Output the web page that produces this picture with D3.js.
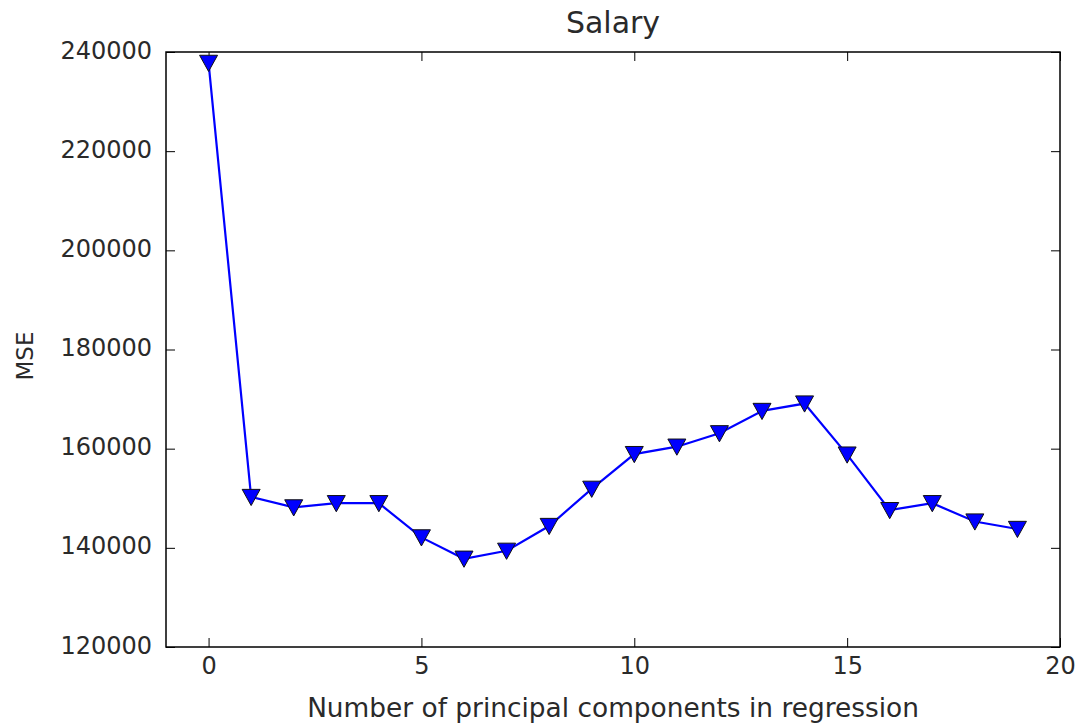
<!DOCTYPE html>
<html><head><meta charset="utf-8">
<script src="https://cdn.jsdelivr.net/npm/d3@7"></script>
<style>body{margin:0;background:#fff;} text{font-family:"DejaVu Sans",sans-serif;}</style>
</head><body>
<svg id="chart" width="1079" height="723"></svg>
<script>
const components = [0,1,2,3,4,5,6,7,8,9,10,11,12,13,14,15,16,17,18,19];
const mse = [237800,150250,148150,149000,149000,142100,137800,139400,144400,151900,158900,160400,163100,167600,169100,158800,147600,149000,145300,143800];
const xTicks = [0,5,10,15,20];
const yTicks = [120000,140000,160000,180000,200000,220000,240000];
const title = "Salary";
const xLabel = "Number of principal components in regression";
const yLabel = "MSE";

const svg = d3.select("#chart");
const L = 166, R = 1060, T = 52, B = 647;
const x = d3.scaleLinear().domain([-1,20]).range([L,R]);
const y = d3.scaleLinear().domain([120000,240000]).range([B,T]);
const tl = 9;

// axes
const gx = svg.append("g").attr("transform",`translate(0,${B})`)
  .call(d3.axisBottom(x).tickValues(xTicks).tickSize(-tl).tickPadding(10).tickFormat(d3.format("d")));
const gxt = svg.append("g").attr("transform",`translate(0,${T})`)
  .call(d3.axisTop(x).tickValues(xTicks).tickSize(-tl).tickFormat(""));
const gy = svg.append("g").attr("transform",`translate(${L},0)`)
  .call(d3.axisLeft(y).tickValues(yTicks).tickSize(-tl).tickPadding(14).tickFormat(d3.format("d")));
const gyr = svg.append("g").attr("transform",`translate(${R},0)`)
  .call(d3.axisRight(y).tickValues(yTicks).tickSize(-tl).tickFormat(""));
[gx,gxt,gy,gyr].forEach(g=>{
  g.select(".domain").remove();
  g.selectAll(".tick line").attr("stroke","#000").attr("stroke-width",1);
  g.selectAll(".tick text").attr("font-size",24).attr("fill","#2a2a2a").attr("font-family","DejaVu Sans");
});
gy.selectAll(".tick text").attr("dy","0.25em");
svg.append("rect").attr("x",L).attr("y",T).attr("width",R-L).attr("height",B-T)
  .attr("fill","none").attr("stroke","#000").attr("stroke-width",1.5);

// line
const line = d3.line().x((d,i)=>x(components[i])).y(d=>y(d));
svg.append("path").datum(mse).attr("d",line).attr("fill","none")
  .attr("stroke","#0000ff").attr("stroke-width",2.2);

// markers (downward triangles)
const s = 9;
svg.selectAll(".m").data(mse).enter().append("path")
  .attr("transform",(d,i)=>`translate(${x(components[i])},${y(d)})`)
  .attr("d",`M${-s},${-s*0.85}L${s},${-s*0.85}L0,${s*0.95}Z`)
  .attr("fill","#0000ff").attr("stroke","#111").attr("stroke-width",1);

// labels
svg.append("text").attr("x",(L+R)/2).attr("y",33).attr("text-anchor","middle")
  .attr("font-size",30).attr("fill","#2a2a2a").text(title);
svg.append("text").attr("x",(L+R)/2).attr("y",717).attr("text-anchor","middle")
  .attr("font-size",26.4).attr("fill","#2a2a2a").text(xLabel);
svg.append("text").attr("transform",`translate(33,356) rotate(-90)`).attr("text-anchor","middle")
  .attr("font-size",23).attr("fill","#2a2a2a").text(yLabel);
</script>
</body></html>
